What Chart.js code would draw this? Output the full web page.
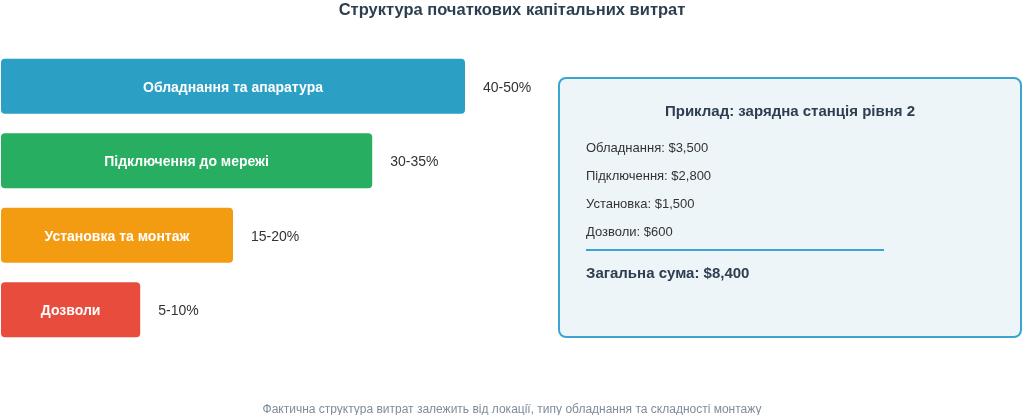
<!DOCTYPE html>
<html lang="uk">
<head>
<meta charset="UTF-8">
<title>Структура початкових капітальних витрат</title>
<script src="https://cdn.jsdelivr.net/npm/chart.js"></script>
<style>
    body {
        margin: 0;
        font-family: "Liberation Sans", Arial, sans-serif;
        background: #fff;
    }
    #wrap {
        position: relative;
        width: 1024px;
        height: 415px;
        overflow: hidden;
    }
    #grafik {
        position: absolute;
        left: 0;
        top: 0;
    }
    .title {
        position: absolute;
        left: 0;
        width: 1024px;
        top: -1px;
        line-height: 20px;
        text-align: center;
        font-weight: bold;
        font-size: 16.5px;
        color: #2c3e50;
    }
    .note {
        position: absolute;
        left: 0;
        width: 1024px;
        top: 399px;
        line-height: 20px;
        text-align: center;
        font-size: 12px;
        color: #7f8c9a;
    }
    .box {
        position: absolute;
        left: 558px;
        top: 77px;
        width: 460px;
        height: 257px;
        border: 2px solid #3aa6cf;
        border-radius: 8px;
        background: #eef5f9;
        color: #2c3e50;
    }
    .box h3 {
        position: absolute;
        left: 0;
        width: 460px;
        top: 22px;
        margin: 0;
        line-height: 20px;
        text-align: center;
        font-size: 15px;
    }
    .box .row {
        position: absolute;
        left: 26px;
        line-height: 20px;
        font-size: 13px;
        color: #333;
    }
    .box .sep {
        position: absolute;
        left: 26px;
        top: 170px;
        width: 298px;
        height: 2px;
        background: #3aa6cf;
    }
    .box .total {
        position: absolute;
        left: 26px;
        top: 184px;
        line-height: 20px;
        font-size: 15px;
        font-weight: bold;
    }
</style>
</head>
<body>
<div id="wrap">
    <canvas id="grafik" width="1024" height="415"></canvas>
    <div class="title" id="titulo"></div>
    <div class="box" id="caja"></div>
    <div class="note" id="nota"></div>
</div>

<script>
    const chartTitle = "Структура початкових капітальних витрат";
    const footNote = "Фактична структура витрат залежить від локації, типу обладнання та складності монтажу";

    const categories = ["Обладнання та апаратура", "Підключення до мережі", "Установка та монтаж", "Дозволи"];
    const barValues = [50, 40, 25, 15];
    const rangeLabels = ["40-50%", "30-35%", "15-20%", "5-10%"];
    const barColors = ["#2b9fc4", "#27ae60", "#f39c12", "#e74c3c"];

    const exampleTitle = "Приклад: зарядна станція рівня 2";
    const exampleItems = ["Обладнання", "Підключення", "Установка", "Дозволи"];
    const exampleCosts = [3500, 2800, 1500, 600];
    const totalLabel = "Загальна сума";

    function money(v) {
        return "$" + v.toLocaleString("en-US");
    }

    document.getElementById("titulo").textContent = chartTitle;
    document.getElementById("nota").textContent = footNote;

    // caja de ejemplo
    const caja = document.getElementById("caja");
    let html = "<h3>" + exampleTitle + "</h3>";
    exampleItems.forEach(function (name, i) {
        html += '<div class="row" style="top:' + (59 + i * 28) + 'px">' + name + ": " + money(exampleCosts[i]) + "</div>";
    });
    const total = exampleCosts.reduce(function (a, b) { return a + b; }, 0);
    html += '<div class="sep"></div>';
    html += '<div class="total">' + totalLabel + ": " + money(total) + "</div>";
    caja.innerHTML = html;

    const barText = {
        id: "barText",
        afterDatasetsDraw(chart) {
            const ctx = chart.ctx;
            const meta = chart.getDatasetMeta(0);
            ctx.save();
            ctx.textBaseline = "middle";
            meta.data.forEach(function (bar, i) {
                ctx.fillStyle = "#ffffff";
                ctx.font = "bold 14px 'Liberation Sans', Arial, sans-serif";
                ctx.textAlign = "center";
                ctx.fillText(categories[i], (bar.base + bar.x) / 2, bar.y + 1.5);

                ctx.fillStyle = "#333333";
                ctx.font = "14px 'Liberation Sans', Arial, sans-serif";
                ctx.textAlign = "left";
                ctx.fillText(rangeLabels[i], bar.x + 18, bar.y + 1.5);
            });
            ctx.restore();
        }
    };

    new Chart(document.getElementById("grafik").getContext("2d"), {
        type: "bar",
        data: {
            labels: categories,
            datasets: [{
                data: barValues,
                backgroundColor: barColors,
                borderRadius: 4,
                borderSkipped: false,
                barPercentage: 1,
                categoryPercentage: 0.74
            }]
        },
        options: {
            indexAxis: "y",
            responsive: false,
            animation: false,
            devicePixelRatio: 1,
            layout: {
                padding: { left: 1, right: 95, top: 49, bottom: 68 }
            },
            plugins: {
                legend: { display: false },
                tooltip: { enabled: false }
            },
            scales: {
                x: { min: 0, max: 100, display: false },
                y: { display: false }
            }
        },
        plugins: [barText]
    });
</script>
</body>
</html>
